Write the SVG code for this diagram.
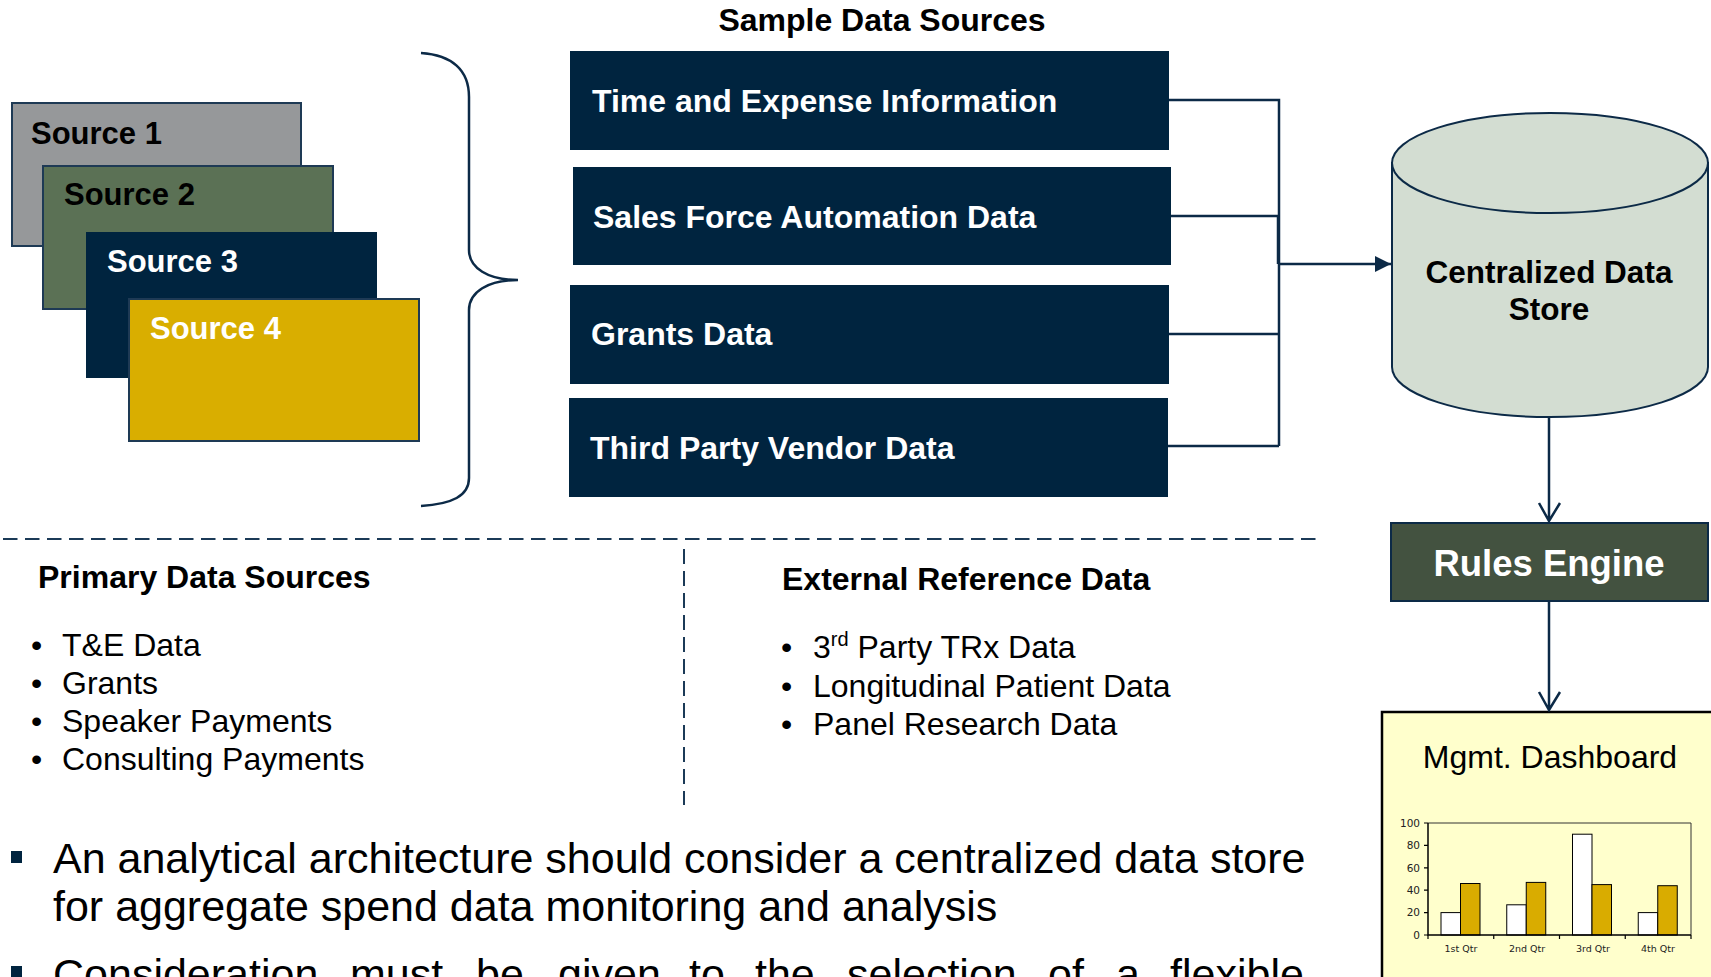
<svg xmlns="http://www.w3.org/2000/svg" width="1711" height="977" viewBox="0 0 1711 977">
  <defs>
    <style>
      .sans { font-family: "Liberation Sans", Arial, Helvetica, sans-serif; }
      .b { font-weight: bold; }
      .src { stroke: #1E3A55; stroke-width: 2; }
      .navybox { fill: #00243F; }
      .boxtxt { fill: #FFFFFF; font-size: 32px; font-weight: bold; }
      .conn { fill: none; stroke: #0C2A47; stroke-width: 2.5; }
      .dash { fill: none; stroke: #1B3A57; stroke-width: 2; }
      .list { font-size: 32px; fill: #000; }
      .head { font-size: 32px; font-weight: bold; fill: #000; }
      .chartlbl { font-family: "DejaVu Sans", Verdana, sans-serif; fill: #222; }
      .bar { stroke: #000; stroke-width: 1; }
    </style>
    <marker id="arrowFill" markerWidth="18" markerHeight="18" refX="16" refY="8" orient="auto" markerUnits="userSpaceOnUse">
      <path d="M0,0 L16,8 L0,16 Z" fill="#0C2A47"/>
    </marker>
  </defs>

  <rect width="1711" height="977" fill="#FFFFFF"/>

  <!-- stacked source cards -->
  <g id="source-1">
    <rect class="src" x="12" y="103" width="289" height="143" fill="#96989A"/>
    <text class="sans b" x="31" y="144" font-size="31" fill="#000">Source 1</text>
  </g>
  <g id="source-2">
    <rect class="src" x="43" y="166" width="290" height="143" fill="#5B7155"/>
    <text class="sans b" x="64" y="205" font-size="31" fill="#000">Source 2</text>
  </g>
  <g id="source-3">
    <rect x="86" y="232" width="291" height="146" fill="#00243F"/>
    <text class="sans b" x="107" y="272" font-size="31" fill="#FFF">Source 3</text>
  </g>
  <g id="source-4">
    <rect class="src" x="129" y="299" width="290" height="142" fill="#D9AE00"/>
    <text class="sans b" x="150" y="339" font-size="31" fill="#FFF">Source 4</text>
  </g>

  <!-- curly brace grouping the sources -->
  <g id="brace">
    <path class="conn" d="M421,53 C452,55 469,70 469,97 L469,250 C469,268 488,280 518,280 C488,280 469,292 469,310 L469,478 C469,496 452,504 421,506"/>
  </g>

  <!-- sample data sources -->
  <g id="sample-title">
    <text class="sans head" x="882" y="31" text-anchor="middle">Sample Data Sources</text>
  </g>
  <g id="time-expense">
    <rect class="navybox" x="570" y="51" width="599" height="99"/>
    <text class="sans boxtxt" x="592" y="112">Time and Expense Information</text>
  </g>
  <g id="sales-force">
    <rect class="navybox" x="573" y="167" width="598" height="98"/>
    <text class="sans boxtxt" x="593" y="228">Sales Force Automation Data</text>
  </g>
  <g id="grants">
    <rect class="navybox" x="570" y="285" width="599" height="99"/>
    <text class="sans boxtxt" x="591" y="345">Grants Data</text>
  </g>
  <g id="third-party">
    <rect class="navybox" x="569" y="398" width="599" height="99"/>
    <text class="sans boxtxt" x="590" y="459">Third Party Vendor Data</text>
  </g>

  <!-- central store -->
  <g id="data-store">
    <path d="M1392,163 L1392,367 A158,50 0 0 0 1708,367 L1708,163 Z" fill="#D3DDD2" stroke="#0C2A47" stroke-width="2"/>
    <ellipse cx="1550" cy="163" rx="158" ry="50" fill="#D3DDD2" stroke="#0C2A47" stroke-width="2"/>
    <text class="sans b" x="1549" y="283" font-size="31.5" text-anchor="middle" fill="#000">Centralized Data</text>
    <text class="sans b" x="1549" y="320" font-size="31.5" text-anchor="middle" fill="#000">Store</text>
  </g>

  <g id="rules-engine">
    <rect x="1391" y="523" width="317" height="78" fill="#435240" stroke="#0C2A47" stroke-width="2"/>
    <text class="sans b" x="1549" y="576" font-size="36.5" text-anchor="middle" fill="#FFF">Rules Engine</text>
  </g>

  <!-- dashboard with bar chart -->
  <g id="dashboard">
    <rect x="1382" y="712" width="345" height="280" fill="#FFFFCC" stroke="#000" stroke-width="2.5"/>
    <text class="sans" x="1550" y="768" font-size="32" text-anchor="middle" fill="#000">Mgmt. Dashboard</text>
    <g id="chart">
      <path d="M1428,823 H1691 V935" fill="none" stroke="#333" stroke-width="1"/>
      <rect class="bar" x="1441" y="912.6" width="19.5" height="22.4" fill="#FFF"/>
      <rect class="bar" x="1460.5" y="883.5" width="19.5" height="51.5" fill="#D9AC00"/>
      <rect class="bar" x="1506.75" y="904.8" width="19.5" height="30.2" fill="#FFF"/>
      <rect class="bar" x="1526.25" y="882.4" width="19.5" height="52.6" fill="#D9AC00"/>
      <rect class="bar" x="1572.5" y="834.2" width="19.5" height="100.8" fill="#FFF"/>
      <rect class="bar" x="1592" y="884.6" width="19.5" height="50.4" fill="#D9AC00"/>
      <rect class="bar" x="1638.25" y="912.6" width="19.5" height="22.4" fill="#FFF"/>
      <rect class="bar" x="1657.75" y="885.7" width="19.5" height="49.3" fill="#D9AC00"/>
      <path d="M1428,823 V935 H1691" fill="none" stroke="#000" stroke-width="1.5"/>
      <path d="M1424,823 H1428 M1424,845.4 H1428 M1424,867.8 H1428 M1424,890.2 H1428 M1424,912.6 H1428 M1424,935 H1428 M1428,935 V939 M1493.75,935 V939 M1559.5,935 V939 M1625.25,935 V939 M1691,935 V939" stroke="#000" stroke-width="1.2"/>
      <g class="chartlbl" font-size="10.5" text-anchor="end">
        <text x="1420" y="826.7">100</text>
        <text x="1420" y="849.1">80</text>
        <text x="1420" y="871.5">60</text>
        <text x="1420" y="893.9">40</text>
        <text x="1420" y="916.3">20</text>
        <text x="1420" y="938.7">0</text>
      </g>
      <g class="chartlbl" font-size="9.5" text-anchor="middle">
        <text x="1461" y="952">1st Qtr</text>
        <text x="1527" y="952">2nd Qtr</text>
        <text x="1593" y="952">3rd Qtr</text>
        <text x="1658" y="952">4th Qtr</text>
      </g>
    </g>
  </g>

  <!-- connectors -->
  <g id="connectors">
    <path class="conn" d="M1169,100 H1279 V446 M1171,216 H1279 M1169,334 H1279 M1168,446 H1279"/>
    <path class="conn" d="M1278,216 V264" stroke-width="3.5"/>
    <path class="conn" d="M1279,264 H1391" stroke-width="3" marker-end="url(#arrowFill)"/>
    <path class="conn" d="M1549,418 V521 M1539,503 L1549,521 L1560,503"/>
    <path class="conn" d="M1549,601 V710 M1539,692 L1549,710 L1560,692"/>
  </g>

  <!-- section dividers -->
  <g id="dividers">
    <path class="dash" d="M3,539 H1318" stroke-dasharray="14.5 7.5"/>
    <path class="dash" d="M684,549 V805" stroke-width="1.8" stroke-dasharray="15 7"/>
  </g>

  <g id="primary-sources">
    <text class="sans head" x="38" y="588">Primary Data Sources</text>
    <g class="sans list">
      <text x="31" y="656">•</text><text x="62" y="656">T&amp;E Data</text>
      <text x="31" y="694">•</text><text x="62" y="694">Grants</text>
      <text x="31" y="732">•</text><text x="62" y="732">Speaker Payments</text>
      <text x="31" y="770">•</text><text x="62" y="770">Consulting Payments</text>
    </g>
  </g>

  <g id="external-reference">
    <text class="sans head" x="782" y="590">External Reference Data</text>
    <g class="sans list">
      <text x="781" y="658">•</text><text x="813" y="658">3<tspan font-size="20" dy="-12">rd</tspan><tspan dy="12"> Party TRx Data</tspan></text>
      <text x="781" y="697">•</text><text x="813" y="697">Longitudinal Patient Data</text>
      <text x="781" y="735">•</text><text x="813" y="735">Panel Research Data</text>
    </g>
  </g>

  <!-- notes -->
  <g id="notes" class="sans" font-size="43" fill="#000">
    <rect x="11" y="851" width="11" height="12" fill="#00243F"/>
    <text x="53" y="873">An analytical architecture should consider a centralized data store</text>
    <text x="53" y="921">for aggregate spend data monitoring and analysis</text>
    <rect x="11" y="966" width="11" height="12" fill="#00243F"/>
    <text y="989"><tspan x="53">Consideration</tspan><tspan x="350">must</tspan><tspan x="476">be</tspan><tspan x="558">given</tspan><tspan x="689">to</tspan><tspan x="755">the</tspan><tspan x="847">selection</tspan><tspan x="1048">of</tspan><tspan x="1116">a</tspan><tspan x="1170">flexible</tspan></text>
  </g>
</svg>
